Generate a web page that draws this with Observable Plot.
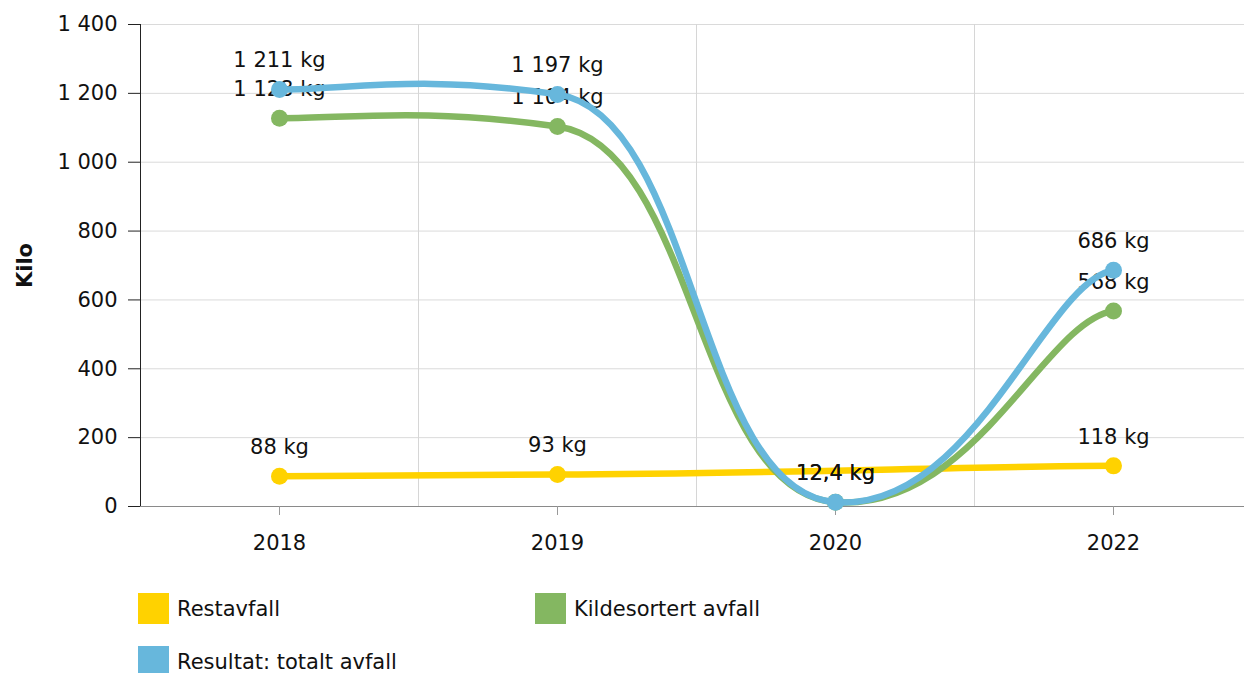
<!DOCTYPE html>
<html>
<head>
<meta charset="utf-8">
<script src="https://cdn.jsdelivr.net/npm/d3@7"></script>
<script src="https://cdn.jsdelivr.net/npm/@observablehq/plot@0.6"></script>
<style>
  html, body { margin: 0; padding: 0; background: #fff; }
  body { width: 1244px; height: 673px; overflow: hidden; font-family: "DejaVu Sans", Verdana, sans-serif; }
  #legend { position: relative; margin-top: 23px; height: 80px; }
  .item { position: absolute; display: flex; align-items: center; font-size: 21px; color: #111; }
  .sw { width: 31px; height: 31px; margin-right: 8px; }
</style>
</head>
<body>
<div id="chart"></div>
<div id="legend"></div>
<script>
const years = ["2018", "2019", "2020", "2022"];
const restavfall = [88, 93, null, 118];
const kildesortert = [1128, 1104, 12.4, 568];
const totalt = [1211, 1197, 12.4, 686];
const seriesNames = ["Restavfall", "Kildesortert avfall", "Resultat: totalt avfall"];
const seriesColors = ["#ffd200", "#84b761", "#67b7dc"];
const seriesValues = [restavfall, kildesortert, totalt];
const yTicks = [0, 200, 400, 600, 800, 1000, 1200, 1400];
const yTitle = "Kilo";

const loc = d3.formatLocale({decimal: ",", thousands: "\u00a0", grouping: [3], currency: ["", ""]});
const fmt = loc.format(",");

// Smoothed-line curve (bezier with x/y smoothing factors), as a d3 curve factory
function SmoothCurve(context) { this._context = context; }
SmoothCurve.prototype = {
  areaStart() { this._line = 0; },
  areaEnd() { this._line = NaN; },
  lineStart() { this._pts = []; },
  point(x, y) { this._pts.push({x: +x, y: +y}); },
  lineEnd() {
    const a = this._pts, ctx = this._context, bx = 4, by = 20;
    if (!a.length) return;
    ctx.moveTo(a[0].x, a[0].y);
    if (a.length === 2) { ctx.lineTo(a[1].x, a[1].y); return; }
    for (let d = 0; d < a.length - 1; d++) {
      let f;
      if (d === 0) f = [a[d], a[d], a[d + 1], a[d + 2]];
      else if (d >= a.length - 2) f = [a[d - 1], a[d], a[d + 1], a[d + 1]];
      else f = [a[d - 1], a[d], a[d + 1], a[d + 2]];
      const c1x = (-f[0].x + bx * f[1].x + f[2].x) / bx;
      const c1y = (-f[0].y + by * f[1].y + f[2].y) / by;
      const c2x = (f[1].x + bx * f[2].x - f[3].x) / bx;
      const c2y = (f[1].y + by * f[2].y - f[3].y) / by;
      ctx.bezierCurveTo(c1x, c1y, c2x, c2y, f[2].x, f[2].y);
    }
  }
};
const smooth = (context) => new SmoothCurve(context);

const marks = [
  Plot.gridY({ticks: yTicks, stroke: "#dadada", strokeOpacity: 1}),
  Plot.gridX({ticks: years.map((_, i) => i + 0.5), stroke: "#d6d6d6", strokeOpacity: 1}),
  Plot.ruleY([0], {stroke: "#8a8a8a"}),
  Plot.ruleX([-0.5], {stroke: "#222"}),
  Plot.axisY({ticks: yTicks, tickSize: 12, tickPadding: 11, tickFormat: d => fmt(d), label: null, fontSize: 21, stroke: "#222"}),
  Plot.axisX({ticks: years.map((_, i) => i), tickSize: 9, tickPadding: 20, tickFormat: i => years[i], label: null, fontSize: 21, stroke: "#999"}),
  Plot.text([yTitle], {frameAnchor: "left", text: d => d, dx: -115, rotate: -90, textAnchor: "middle", fontWeight: "bold", fontSize: 21})
];

seriesValues.forEach((vals, s) => {
  const rows = years.map((y, i) => ({i, v: vals[i]})).filter(d => d.v != null);
  marks.push(
    Plot.line(rows, {x: "i", y: "v", stroke: seriesColors[s], strokeWidth: 6.5, curve: smooth}),
    Plot.dot(rows, {x: "i", y: "v", r: 8.5, fill: seriesColors[s]}),
    Plot.text(rows, {x: "i", y: "v", text: d => fmt(d.v) + " kg", dy: -29, fontSize: 21, fill: "#111"})
  );
});

const chart = Plot.plot({
  width: 1244,
  height: 570,
  marginLeft: 140,
  marginRight: 0,
  marginTop: 24,
  marginBottom: 64,
  style: {fontFamily: "DejaVu Sans", fontSize: "21px", color: "#111", background: "#fff", overflow: "hidden"},
  x: {type: "linear", domain: [-0.5, years.length - 0.5], range: [140, 140 + 278 * years.length]},
  y: {domain: [0, 1400]},
  marks
});
document.getElementById("chart").appendChild(chart);

const legend = document.getElementById("legend");
const pos = [[138, 0], [535, 0], [138, 53]];
seriesNames.forEach((name, s) => {
  const it = document.createElement("div");
  it.className = "item";
  it.style.left = pos[s][0] + "px";
  it.style.top = pos[s][1] + "px";
  const sw = document.createElement("div");
  sw.className = "sw";
  sw.style.background = seriesColors[s];
  const tx = document.createElement("span");
  tx.textContent = name;
  it.appendChild(sw);
  it.appendChild(tx);
  legend.appendChild(it);
});
</script>
</body>
</html>
